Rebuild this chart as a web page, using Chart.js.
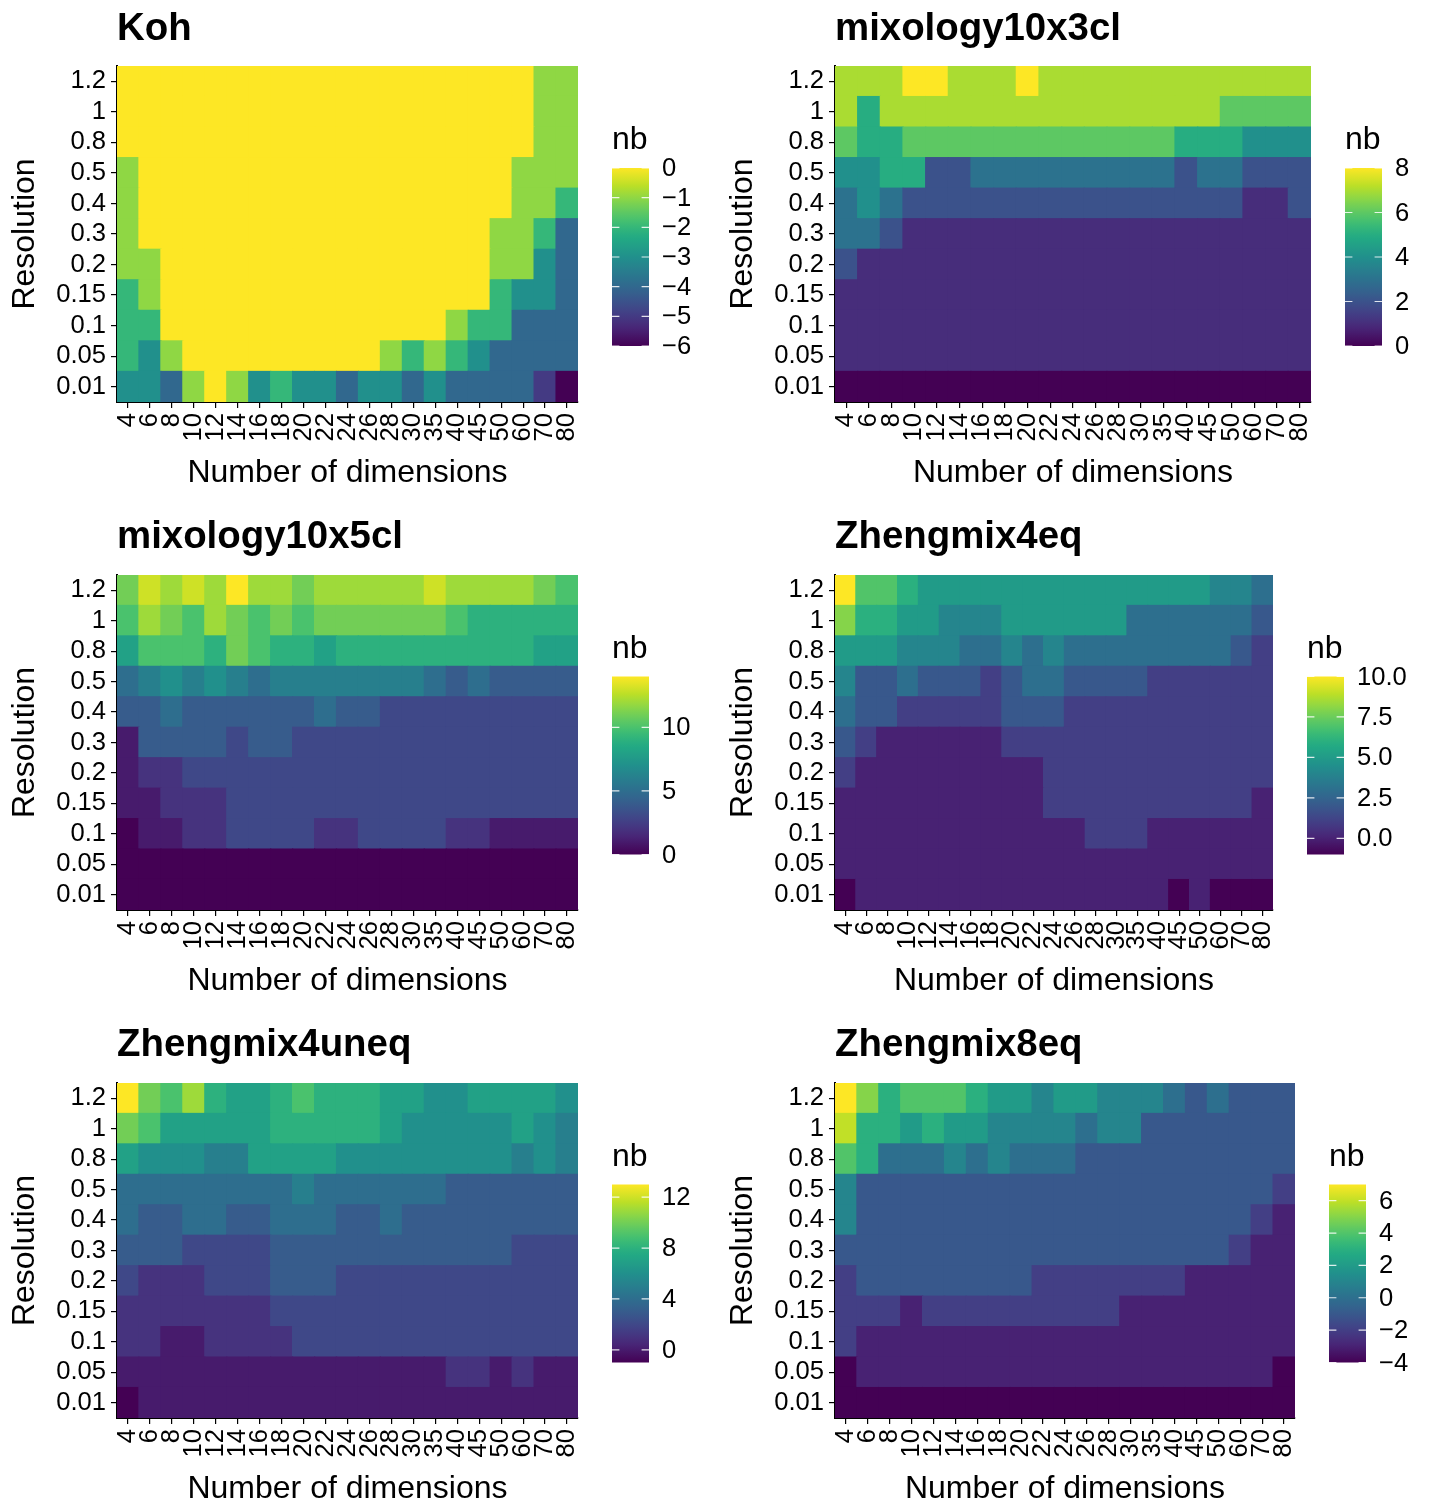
<!DOCTYPE html>
<html><head><meta charset="utf-8">
<script src="https://cdn.jsdelivr.net/npm/chart.js@4.4.1/dist/chart.umd.min.js"></script>
<style>
html,body{margin:0;padding:0;background:#fff;overflow:hidden;}
#wrap{position:relative;width:1429px;height:1504px;background:#fff;}
canvas{position:absolute;}
</style></head><body><div id="wrap"></div>
<script>
const dims = ['4','6','8','10','12','14','16','18','20','22','24','26','28','30','35','40','45','50','60','70','80'];
const resolutions = ['0.01','0.05','0.1','0.15','0.2','0.3','0.4','0.5','0.8','1','1.2'];
const titles = ['Koh','mixology10x3cl','mixology10x5cl','Zhengmix4eq','Zhengmix4uneq','Zhengmix8eq'];

// values per panel; rows listed top (resolution 1.2) to bottom (0.01), columns follow dims
const kohValues = [
 [0,0,0,0,0, 0,0,0,0,0, 0,0,0,0,0, 0,0,0,0,-1, -1],
 [0,0,0,0,0, 0,0,0,0,0, 0,0,0,0,0, 0,0,0,0,-1, -1],
 [0,0,0,0,0, 0,0,0,0,0, 0,0,0,0,0, 0,0,0,0,-1, -1],
 [-1,0,0,0,0, 0,0,0,0,0, 0,0,0,0,0, 0,0,0,-1,-1, -1],
 [-1,0,0,0,0, 0,0,0,0,0, 0,0,0,0,0, 0,0,0,-1,-1, -2],
 [-1,0,0,0,0, 0,0,0,0,0, 0,0,0,0,0, 0,0,-1,-1,-2, -4],
 [-1,-1,0,0,0, 0,0,0,0,0, 0,0,0,0,0, 0,0,-1,-1,-3, -4],
 [-2,-1,0,0,0, 0,0,0,0,0, 0,0,0,0,0, 0,0,-2,-3,-3, -4],
 [-2,-2,0,0,0, 0,0,0,0,0, 0,0,0,0,0, -1,-2,-2,-4,-4, -4],
 [-2,-3,-1,0,0, 0,0,0,0,0, 0,0,-1,-2,-1, -2,-3,-4,-4,-4, -4],
 [-3,-3,-4,-1,0, -1,-3,-2,-3,-3, -4,-3,-3,-4,-3, -4,-4,-4,-4,-5, -6]
];
const mix3Values = [
 [7,7,7,8,8, 7,7,7,8,7, 7,7,7,7,7, 7,7,7,7,7, 7],
 [7,5,7,7,7, 7,7,7,7,7, 7,7,7,7,7, 7,7,6,6,6, 6],
 [6,5,5,6,6, 6,6,6,6,6, 6,6,6,6,6, 5,5,5,4,4, 4],
 [4,4,5,5,2, 2,3,3,3,3, 3,3,3,3,3, 2,3,3,2,2, 2],
 [3,4,3,2,2, 2,2,2,2,2, 2,2,2,2,2, 2,2,2,1,1, 2],
 [3,3,2,1,1, 1,1,1,1,1, 1,1,1,1,1, 1,1,1,1,1, 1],
 [2,1,1,1,1, 1,1,1,1,1, 1,1,1,1,1, 1,1,1,1,1, 1],
 [1,1,1,1,1, 1,1,1,1,1, 1,1,1,1,1, 1,1,1,1,1, 1],
 [1,1,1,1,1, 1,1,1,1,1, 1,1,1,1,1, 1,1,1,1,1, 1],
 [1,1,1,1,1, 1,1,1,1,1, 1,1,1,1,1, 1,1,1,1,1, 1],
 [0,0,0,0,0, 0,0,0,0,0, 0,0,0,0,0, 0,0,0,0,0, 0]
];
const mix5Values = [
 [11,13,12,13,12, 14,12,12,11,12, 12,12,12,12,13, 12,12,12,12,11, 10],
 [10,12,11,10,12, 11,10,11,10,11, 11,11,11,11,11, 10,9,9,9,9, 9],
 [8,10,10,10,9, 11,10,9,9,8, 9,9,9,9,9, 9,9,9,9,8, 8],
 [5,6,7,6,7, 6,5,6,6,6, 6,6,6,6,5, 4,5,4,4,4, 4],
 [4,4,5,4,4, 4,4,4,4,5, 4,4,3,3,3, 3,3,3,3,3, 3],
 [1,4,4,4,4, 3,4,4,3,3, 3,3,3,3,3, 3,3,3,3,3, 3],
 [1,2,2,3,3, 3,3,3,3,3, 3,3,3,3,3, 3,3,3,3,3, 3],
 [1,1,2,2,2, 3,3,3,3,3, 3,3,3,3,3, 3,3,3,3,3, 3],
 [0,1,1,2,2, 3,3,3,3,2, 2,3,3,3,3, 2,2,1,1,1, 1],
 [0,0,0,0,0, 0,0,0,0,0, 0,0,0,0,0, 0,0,0,0,0, 0],
 [0,0,0,0,0, 0,0,0,0,0, 0,0,0,0,0, 0,0,0,0,0, 0]
];
const z4eqValues = [
 [10,7,7,6,5, 5,5,5,5,5, 5,5,5,5,5, 5,5,5,4,4, 3],
 [8,6,6,5,5, 4,4,4,5,5, 5,5,5,5,3, 3,3,3,3,3, 2],
 [5,5,5,4,4, 4,3,3,4,3, 4,3,3,3,3, 3,3,3,3,2, 1],
 [4,2,2,3,2, 2,2,1,2,3, 3,2,2,2,2, 1,1,1,1,1, 1],
 [3,2,2,1,1, 1,1,1,2,2, 2,1,1,1,1, 1,1,1,1,1, 1],
 [2,1,0,0,0, 0,0,0,1,1, 1,1,1,1,1, 1,1,1,1,1, 1],
 [1,0,0,0,0, 0,0,0,0,0, 1,1,1,1,1, 1,1,1,1,1, 1],
 [0,0,0,0,0, 0,0,0,0,0, 1,1,1,1,1, 1,1,1,1,1, 0],
 [0,0,0,0,0, 0,0,0,0,0, 0,0,1,1,1, 0,0,0,0,0, 0],
 [0,0,0,0,0, 0,0,0,0,0, 0,0,0,0,0, 0,0,0,0,0, 0],
 [-1,0,0,0,0, 0,0,0,0,0, 0,0,0,0,0, 0,-1,0,-1,-1, -1]
];
const z4uneqValues = [
 [13,10,9,11,8, 7,7,8,9,8, 8,8,7,7,6, 6,7,7,7,7, 6],
 [10,9,7,7,7, 7,7,8,8,8, 8,8,7,6,6, 6,6,6,7,6, 5],
 [7,6,6,6,5, 5,7,7,7,7, 6,6,6,6,6, 6,6,6,5,6, 5],
 [4,4,4,4,4, 4,4,4,5,4, 4,4,4,4,4, 3,3,3,3,3, 3],
 [4,3,3,4,4, 3,3,4,4,4, 3,3,4,3,3, 3,3,3,3,3, 3],
 [3,3,3,2,2, 2,2,3,3,3, 3,3,3,3,3, 3,3,3,2,2, 2],
 [2,1,1,1,2, 2,2,3,3,3, 2,2,2,2,2, 2,2,2,2,2, 2],
 [1,1,1,1,1, 1,1,2,2,2, 2,2,2,2,2, 2,2,2,2,2, 2],
 [1,1,0,0,1, 1,1,1,2,2, 2,2,2,2,2, 2,2,2,2,2, 2],
 [0,0,0,0,0, 0,0,0,0,0, 0,0,0,0,0, 1,1,0,1,0, 0],
 [-1,0,0,0,0, 0,0,0,0,0, 0,0,0,0,0, 0,0,0,0,0, 0]
];
const z8eqValues = [
 [7,5,3,4,4, 4,3,2,2,1, 2,2,1,1,1, 0,-1,0,-1,-1, -1],
 [6,3,3,2,3, 2,2,1,1,1, 1,0,1,1,-1, -1,-1,-1,-1,-1, -1],
 [4,3,0,0,0, 1,0,1,0,0, 0,-1,-1,-1,-1, -1,-1,-1,-1,-1, -1],
 [1,-1,-1,-1,-1, -1,-1,-1,-1,-1, -1,-1,-1,-1,-1, -1,-1,-1,-1,-1, -2],
 [1,-1,-1,-1,-1, -1,-1,-1,-1,-1, -1,-1,-1,-1,-1, -1,-1,-1,-1,-2, -3],
 [-1,-1,-1,-1,-1, -1,-1,-1,-1,-1, -1,-1,-1,-1,-1, -1,-1,-1,-2,-3, -3],
 [-2,-1,-1,-1,-1, -1,-1,-1,-1,-2, -2,-2,-2,-2,-2, -2,-3,-3,-3,-3, -3],
 [-2,-2,-2,-3,-2, -2,-2,-2,-2,-2, -2,-2,-2,-3,-3, -3,-3,-3,-3,-3, -3],
 [-2,-3,-3,-3,-3, -3,-3,-3,-3,-3, -3,-3,-3,-3,-3, -3,-3,-3,-3,-3, -3],
 [-4,-3,-3,-3,-3, -3,-3,-3,-3,-3, -3,-3,-3,-3,-3, -3,-3,-3,-3,-3, -4],
 [-4,-4,-4,-4,-4, -4,-4,-4,-4,-4, -4,-4,-4,-4,-4, -4,-4,-4,-4,-4, -4]
];

// colour-bar breaks and labels
const kohBreaks = [0,-1,-2,-3,-4,-5,-6];
const kohBreakLabels = ['0','\u22121','\u22122','\u22123','\u22124','\u22125','\u22126'];
const mix3Breaks = [0,2,4,6,8];
const mix3BreakLabels = ['0','2','4','6','8'];
const mix5Breaks = [0,5,10];
const mix5BreakLabels = ['0','5','10'];
const z4eqBreaks = [0,2.5,5,7.5,10];
const z4eqBreakLabels = ['0.0','2.5','5.0','7.5','10.0'];
const z4uneqBreaks = [0,4,8,12];
const z4uneqBreakLabels = ['0','4','8','12'];
const z8eqBreaks = [-4,-2,0,2,4,6];
const z8eqBreakLabels = ['\u22124','\u22122','0','2','4','6'];

const FONT = '"Liberation Sans", Arial, Helvetica, sans-serif';

const VIR = [
 [0,'#440154'],[0.1,'#482576'],[0.125,'#472D7B'],[0.1667,'#443A83'],[0.2,'#414487'],
 [0.25,'#3B528B'],[0.3,'#35608D'],[0.3333,'#31688E'],[0.375,'#2C728E'],[0.4,'#2A788E'],
 [0.5,'#21908C'],[0.6,'#22A884'],[0.625,'#27AD81'],[0.6667,'#35B779'],[0.7,'#43BF71'],
 [0.75,'#5DC863'],[0.8,'#7AD151'],[0.8333,'#8FD744'],[0.875,'#AADC32'],[0.9,'#BBDF27'],[1,'#FDE725']
];
function hex2rgb(h){return [parseInt(h.substr(1,2),16),parseInt(h.substr(3,2),16),parseInt(h.substr(5,2),16)];}
function viridis(t){
  t = Math.max(0, Math.min(1, t));
  for (let i = 1; i < VIR.length; i++) {
    if (t <= VIR[i][0]) {
      const a = VIR[i-1], b = VIR[i];
      const f = (t - a[0]) / (b[0] - a[0]);
      const ca = hex2rgb(a[1]), cb = hex2rgb(b[1]);
      const c = ca.map((v, k) => Math.round(v + (cb[k] - v) * f));
      return `rgb(${c[0]},${c[1]},${c[2]})`;
    }
  }
  return VIR[VIR.length-1][1];
}

const panels = [
 {title: titles[0], values: kohValues, breaks: kohBreaks, labels: kohBreakLabels, x:0, y:0, w:715, h:508, left:117, right:578, top:66, bottom:402},
 {title: titles[1], values: mix3Values, breaks: mix3Breaks, labels: mix3BreakLabels, x:715, y:0, w:714, h:508, left:120, right:596, top:66, bottom:402},
 {title: titles[2], values: mix5Values, breaks: mix5Breaks, labels: mix5BreakLabels, x:0, y:508, w:715, h:508, left:117, right:578, top:67, bottom:402},
 {title: titles[3], values: z4eqValues, breaks: z4eqBreaks, labels: z4eqBreakLabels, x:715, y:508, w:714, h:508, left:120, right:558, top:67, bottom:402},
 {title: titles[4], values: z4uneqValues, breaks: z4uneqBreaks, labels: z4uneqBreakLabels, x:0, y:1016, w:715, h:488, left:117, right:578, top:67, bottom:402},
 {title: titles[5], values: z8eqValues, breaks: z8eqBreaks, labels: z8eqBreakLabels, x:715, y:1016, w:714, h:488, left:120, right:580, top:67, bottom:402}
];

const wrap = document.getElementById('wrap');

function makePanel(p) {
  const c = document.createElement('canvas');
  c.width = p.w; c.height = p.h;
  c.style.left = p.x + 'px'; c.style.top = p.y + 'px';
  c.style.width = p.w + 'px'; c.style.height = p.h + 'px';
  wrap.appendChild(c);
  const all = p.values.flat();
  const vmin = Math.min(...all), vmax = Math.max(...all);
  const rowsBottomUp = p.values.slice().reverse();
  const datasets = resolutions.map((r, i) => ({
    label: r,
    data: dims.map(() => 1),
    backgroundColor: rowsBottomUp[i].map(v => viridis((v - vmin) / (vmax - vmin))),
    borderWidth: 0,
    barPercentage: 1,
    categoryPercentage: 1,
    inflateAmount: 0.6
  }));
  const decor = {
    id: 'decor',
    afterDraw(chart) {
      const ctx = chart.ctx, a = chart.chartArea;
      ctx.save();
      ctx.fillStyle = '#000';
      ctx.font = `bold 38.4px ${FONT}`;
      ctx.textAlign = 'left'; ctx.textBaseline = 'alphabetic';
      ctx.fillText(p.title, a.left, 40);
      ctx.font = `32px ${FONT}`;
      ctx.textAlign = 'center';
      ctx.fillText('Number of dimensions', (a.left + a.right) / 2, 482);
      ctx.save();
      ctx.translate(a.left - 83, (a.top + a.bottom) / 2);
      ctx.rotate(-Math.PI / 2);
      ctx.fillText('Resolution', 0, 0);
      ctx.restore();
      const bx = a.right + 34, bw = 37;
      const cy = (a.top + a.bottom) / 2;
      const by = cy - 66, bh = 178;
      ctx.textAlign = 'left';
      ctx.fillText('nb', bx, by - 19);
      const g = ctx.createLinearGradient(0, by + bh, 0, by);
      for (let k = 0; k <= 40; k++) g.addColorStop(k / 40, viridis(k / 40));
      ctx.fillStyle = g;
      ctx.fillRect(bx, by, bw, bh);
      ctx.font = `25.6px ${FONT}`;
      ctx.textBaseline = 'middle';
      p.breaks.forEach((b, i) => {
        const yy = by + bh - (b - vmin) / (vmax - vmin) * bh;
        ctx.strokeStyle = 'rgba(255,255,255,0.85)';
        ctx.lineWidth = 1.2;
        ctx.beginPath();
        ctx.moveTo(bx, yy); ctx.lineTo(bx + bw / 5, yy);
        ctx.moveTo(bx + bw * 4 / 5, yy); ctx.lineTo(bx + bw, yy);
        ctx.stroke();
        ctx.fillStyle = '#000';
        ctx.fillText(p.labels[i], bx + bw + 13, yy + 1);
      });
      ctx.restore();
    }
  };
  const tickFont = {family: FONT, size: 25.6};
  new Chart(c, {
    type: 'bar',
    data: {labels: dims, datasets},
    options: {
      responsive: false, animation: false, devicePixelRatio: 1,
      layout: {autoPadding: false, padding: {left: 0, top: p.top, right: p.w - p.right, bottom: 0}},
      plugins: {legend: {display: false}, tooltip: {enabled: false}, title: {display: false}},
      scales: {
        x: {
          type: 'category', stacked: true, offset: true,
          grid: {display: true, drawOnChartArea: false, drawTicks: true, tickLength: 6, offset: false, color: '#000', lineWidth: 1.2},
          border: {display: true, color: '#000', width: 2},
          ticks: {autoSkip: false, maxRotation: 90, minRotation: 90, padding: 5, color: '#000', font: tickFont},
          afterFit: s => { s.height = p.h - p.bottom; }
        },
        y: {
          type: 'linear', stacked: true, min: 0, max: resolutions.length,
          afterBuildTicks: s => { s.ticks = resolutions.map((r, i) => ({value: i + 0.5})); },
          grid: {display: true, drawOnChartArea: false, drawTicks: true, tickLength: 6, color: '#000', lineWidth: 1.2},
          border: {display: true, color: '#000', width: 2},
          ticks: {autoSkip: false, padding: 5, color: '#000', font: tickFont, callback: v => resolutions[Math.floor(v)]},
          afterFit: s => { s.width = p.left; }
        }
      }
    },
    plugins: [decor]
  });
}
panels.forEach(makePanel);
</script>
</body></html>
